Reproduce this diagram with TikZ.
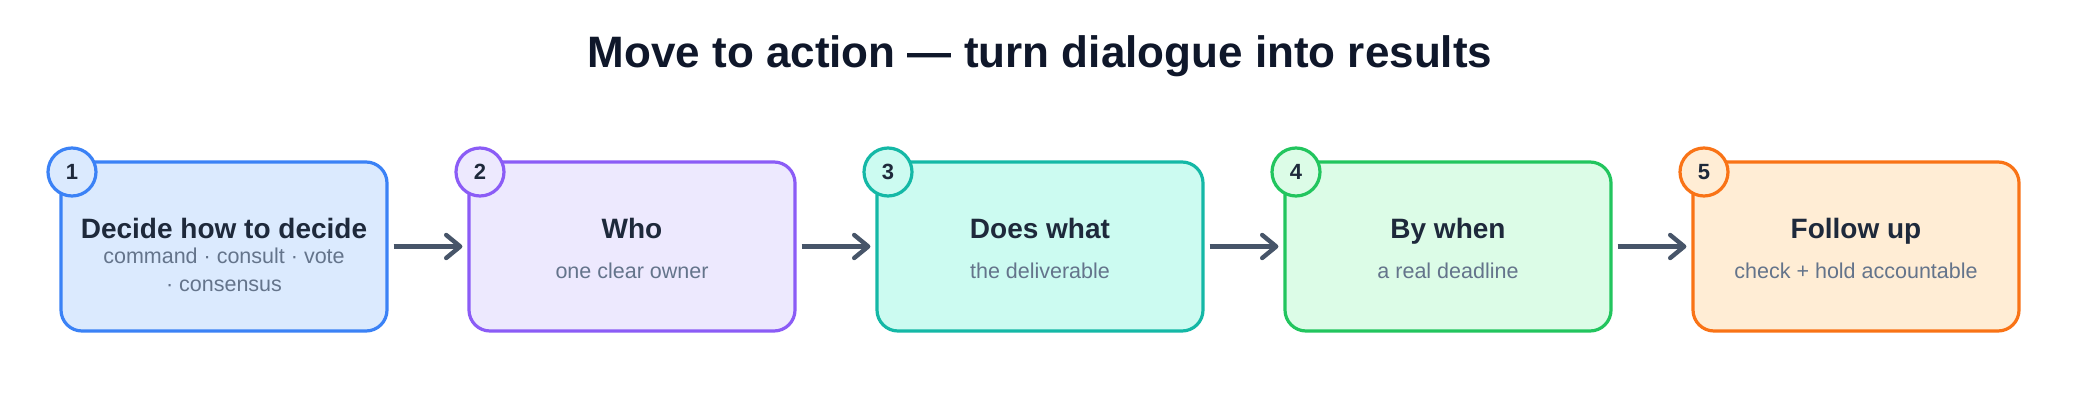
\documentclass[tikz,border=0pt]{standalone}
\usepackage{fontspec}
\setmainfont{Liberation Sans}
\usetikzlibrary{arrows.meta}
\definecolor{titlec}{HTML}{0F172A}
\definecolor{headc}{HTML}{1E293B}
\definecolor{subc}{HTML}{64748B}
\definecolor{arrowc}{HTML}{475569}
\definecolor{fA}{HTML}{DBEAFE}\definecolor{sA}{HTML}{3B82F6}
\definecolor{fB}{HTML}{EDE9FE}\definecolor{sB}{HTML}{8B5CF6}
\definecolor{fC}{HTML}{CCFBF1}\definecolor{sC}{HTML}{14B8A6}
\definecolor{fD}{HTML}{DCFCE7}\definecolor{sD}{HTML}{22C55E}
\definecolor{fE}{HTML}{FFEDD5}\definecolor{sE}{HTML}{F97316}
\tikzset{
  stepbox/.style={draw, line width=3.2pt, rounded corners=21pt, minimum width=326pt, minimum height=169pt, inner sep=0pt},
  badge/.style={draw, circle, line width=3.2pt, minimum size=48pt, inner sep=0pt, text=headc, font=\fontsize{22}{24}\selectfont\bfseries},
  headtxt/.style={anchor=base, text=headc, font=\fontsize{28}{32}\selectfont\bfseries, inner sep=0pt},
  subtxt/.style={anchor=base, text=subc, font=\fontsize{21.5}{26}\selectfont, inner sep=0pt},
  flow/.style={draw=arrowc, line width=4.4pt, -{Straight Barb[length=14pt,width=23pt,line cap=round,line join=round]}},
}
\begin{document}
\begin{tikzpicture}[x=1pt,y=-1pt]
\useasboundingbox[fill=white] (0,0) rectangle (2080,420);
\node[anchor=base, text=titlec, font=\fontsize{44}{52}\selectfont\bfseries, inner sep=0pt] (title) at (1040,67.5) {Move to action — turn dialogue into results};

\node[stepbox, fill=fA, draw=sA] (b1) at (224,246.5) {};
\node[stepbox, fill=fB, draw=sB] (b2) at (632,246.5) {};
\node[stepbox, fill=fC, draw=sC] (b3) at (1040,246.5) {};
\node[stepbox, fill=fD, draw=sD] (b4) at (1448,246.5) {};
\node[stepbox, fill=fE, draw=sE] (b5) at (1856,246.5) {};

\node[badge, fill=fA, draw=sA] (n1) at (72,172) {1};
\node[badge, fill=fB, draw=sB] (n2) at (480,172) {2};
\node[badge, fill=fC, draw=sC] (n3) at (888,172) {3};
\node[badge, fill=fD, draw=sD] (n4) at (1296,172) {4};
\node[badge, fill=fE, draw=sE] (n5) at (1704,172) {5};

\node[headtxt] (h1) at (224,238) {Decide how to decide};
\node[subtxt] (s1a) at (224,263) {command · consult · vote};
\node[subtxt] (s1b) at (224,291.5) {· consensus};

\node[headtxt] (h2) at (632,238) {Who};
\node[subtxt] (s2) at (632,278) {one clear owner};

\node[headtxt] (h3) at (1040,238) {Does what};
\node[subtxt] (s3) at (1040,278) {the deliverable};

\node[headtxt] (h4) at (1448,238) {By when};
\node[subtxt] (s4) at (1448,278) {a real deadline};

\node[headtxt] (h5) at (1856,238) {Follow up};
\node[subtxt] (s5) at (1856,278) {check + hold accountable};

\draw[flow] ([xshift=5pt]b1.east) -- ([xshift=-5pt]b2.west);
\draw[flow] ([xshift=5pt]b2.east) -- ([xshift=-5pt]b3.west);
\draw[flow] ([xshift=5pt]b3.east) -- ([xshift=-5pt]b4.west);
\draw[flow] ([xshift=5pt]b4.east) -- ([xshift=-5pt]b5.west);
\end{tikzpicture}
\end{document}
